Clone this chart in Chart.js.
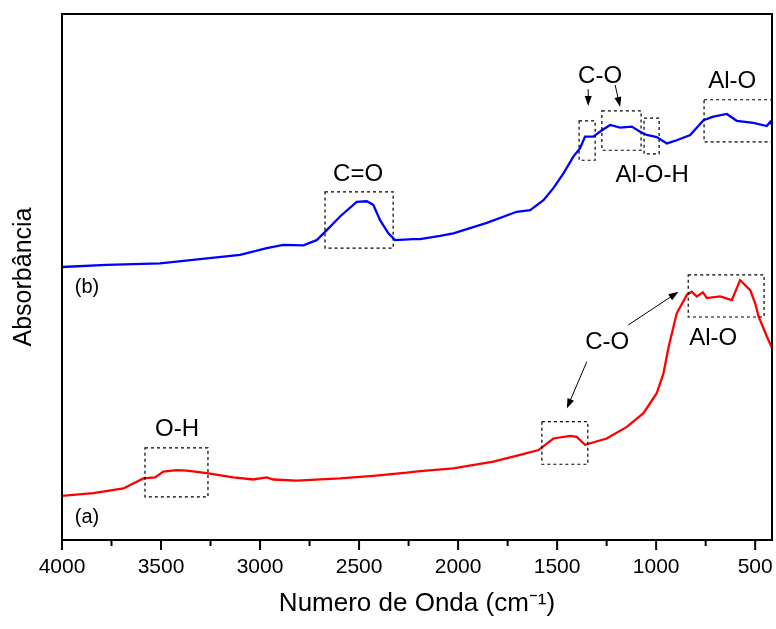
<!DOCTYPE html>
<html>
<head>
<meta charset="utf-8">
<script src="https://cdn.jsdelivr.net/npm/chart.js@4.4.1/dist/chart.umd.min.js"></script>
<style>
  body { margin: 0; background: #fff; }
  #box { width: 776px; height: 629px; }
</style>
</head>
<body>
<div id="box"><canvas id="myChart"></canvas></div>
<script>
// espectro (a) - vermelho
let waveA = [4000, 3842, 3690, 3589, 3530, 3488, 3421, 3370, 3269, 3135, 3034, 2966, 2933, 2815, 2596, 2428,
  2259, 2192, 2024, 1822, 1687, 1594, 1519, 1434, 1401, 1359, 1250, 1148, 1064, 997, 963, 937, 896,
  845, 820, 795, 764, 744, 677, 618, 576, 525, 500, 483, 441, 415];
let absA = [0.084, 0.089, 0.098, 0.117, 0.119, 0.130, 0.133, 0.132, 0.127, 0.119, 0.115, 0.119, 0.115, 0.113, 0.117, 0.122,
  0.128, 0.131, 0.136, 0.149, 0.162, 0.171, 0.193, 0.198, 0.196, 0.181, 0.193, 0.215, 0.241, 0.279, 0.317, 0.367, 0.431,
  0.466, 0.472, 0.463, 0.471, 0.460, 0.463, 0.456, 0.494, 0.475, 0.450, 0.425, 0.387, 0.365];

// espectro (b) - azul
let waveB = [4000, 3774, 3505, 3303, 3101, 2966, 2882, 2781, 2714, 2663, 2596, 2512, 2461, 2428, 2394, 2352,
  2318, 2226, 2192, 2091, 2024, 1855, 1704, 1636, 1569, 1519, 1468, 1418, 1384, 1359, 1317, 1274, 1232,
  1182, 1123, 1081, 1047, 997, 946, 896, 828, 761, 711, 643, 593, 509, 441, 424, 415];
let absB = [0.519, 0.523, 0.526, 0.534, 0.542, 0.555, 0.561, 0.560, 0.570, 0.589, 0.615, 0.643, 0.644, 0.637, 0.608, 0.583,
  0.570, 0.572, 0.572, 0.578, 0.583, 0.603, 0.624, 0.627, 0.646, 0.669, 0.697, 0.729, 0.745, 0.767, 0.767, 0.779, 0.789,
  0.784, 0.786, 0.776, 0.770, 0.766, 0.754, 0.760, 0.770, 0.798, 0.805, 0.810, 0.797, 0.793, 0.787, 0.795, 0.789];

let tickValues = [4000, 3500, 3000, 2500, 2000, 1500, 1000, 500];
let minorTicks = [3750, 3250, 2750, 2250, 1750, 1250, 750];

// caixas tracejadas [wn1, wn2, y1, y2]
let boxes = [
  [2672, 2328, 0.662, 0.555],
  [1389, 1308, 0.797, 0.722],
  [1274, 1076, 0.816, 0.741],
  [1061, 985, 0.802, 0.734],
  [758, 416, 0.837, 0.757],
  [3581, 3263, 0.175, 0.082],
  [1577, 1345, 0.225, 0.144],
  [838, 455, 0.504, 0.424]
];
// textos [texto, wn, y]
let notes = [
  ['C=O', 2505, 0.696],
  ['C-O', 1283, 0.882],
  ['Al-O', 616, 0.871],
  ['Al-O-H', 1020, 0.694],
  ['O-H', 3419, 0.211],
  ['C-O', 1247, 0.375],
  ['Al-O', 712, 0.384],
  ['(b)', 3874, 0.481],
  ['(a)', 3874, 0.042]
];
// setas [wn1, y1, wn2, y2]
let arrows = [
  [1343, 0.857, 1343, 0.825],
  [1207, 0.865, 1182, 0.823],
  [1350, 0.339, 1451, 0.250],
  [1140, 0.409, 887, 0.472]
];

let font = '"Liberation Sans", Arial, sans-serif';

function toPoints(xs, ys) {
  return xs.map(function (x, i) { return { x: x, y: ys[i] }; });
}

function arrow(ctx, x1, y1, x2, y2) {
  let ang = Math.atan2(y2 - y1, x2 - x1);
  ctx.beginPath();
  ctx.moveTo(x1, y1);
  ctx.lineTo(x2 - 6 * Math.cos(ang), y2 - 6 * Math.sin(ang));
  ctx.stroke();
  ctx.beginPath();
  ctx.moveTo(x2, y2);
  ctx.lineTo(x2 - 10 * Math.cos(ang) + 3.5 * Math.sin(ang), y2 - 10 * Math.sin(ang) - 3.5 * Math.cos(ang));
  ctx.lineTo(x2 - 10 * Math.cos(ang) - 3.5 * Math.sin(ang), y2 - 10 * Math.sin(ang) + 3.5 * Math.cos(ang));
  ctx.closePath();
  ctx.fill();
}

let extras = {
  id: 'extras',
  afterDatasetsDraw: function (chart) {
    let ctx = chart.ctx;
    let a = chart.chartArea;
    let sx = chart.scales.x;
    let sy = chart.scales.y;
    ctx.save();
    ctx.strokeStyle = '#000';
    ctx.fillStyle = '#000';

    // moldura
    ctx.lineWidth = 2;
    ctx.strokeRect(a.left, a.top, a.right - a.left, a.bottom - a.top);

    // marcas do eixo x
    tickValues.forEach(function (v) {
      let px = sx.getPixelForValue(v);
      ctx.beginPath(); ctx.moveTo(px, a.bottom); ctx.lineTo(px, a.bottom + 10); ctx.stroke();
    });
    minorTicks.forEach(function (v) {
      let px = sx.getPixelForValue(v);
      ctx.beginPath(); ctx.moveTo(px, a.bottom); ctx.lineTo(px, a.bottom + 6); ctx.stroke();
    });

    // caixas
    ctx.lineWidth = 1.2;
    ctx.setLineDash([3, 3]);
    boxes.forEach(function (b) {
      let x1 = sx.getPixelForValue(b[0]), x2 = sx.getPixelForValue(b[1]);
      let y1 = sy.getPixelForValue(b[2]), y2 = sy.getPixelForValue(b[3]);
      ctx.strokeRect(x1, y1, x2 - x1, y2 - y1);
    });
    ctx.setLineDash([]);

    // setas
    ctx.lineWidth = 1;
    arrows.forEach(function (r) {
      arrow(ctx, sx.getPixelForValue(r[0]), sy.getPixelForValue(r[1]), sx.getPixelForValue(r[2]), sy.getPixelForValue(r[3]));
    });

    // textos
    ctx.textAlign = 'center';
    ctx.textBaseline = 'middle';
    notes.forEach(function (n) {
      ctx.font = (n[0].charAt(0) === '(' ? '20px ' : '24px ') + font;
      ctx.fillText(n[0], sx.getPixelForValue(n[1]), sy.getPixelForValue(n[2]));
    });
    ctx.restore();
  }
};

let ctx = document.getElementById('myChart').getContext('2d');
let chart = new Chart(ctx, {
  type: 'line',
  data: {
    datasets: [{
      label: '(a)',
      data: toPoints(waveA, absA),
      borderColor: '#ff0000',
      borderWidth: 2.3,
      pointRadius: 0,
      tension: 0
    }, {
      label: '(b)',
      data: toPoints(waveB, absB),
      borderColor: '#0000ff',
      borderWidth: 2.3,
      pointRadius: 0,
      tension: 0
    }]
  },
  options: {
    responsive: true,
    maintainAspectRatio: false,
    animation: false,
    layout: { padding: { top: 14, right: 4, left: 0, bottom: 0 } },
    plugins: { legend: { display: false }, tooltip: { enabled: false } },
    scales: {
      x: {
        type: 'linear',
        reverse: true,
        min: 415,
        max: 4000,
        grid: { display: false, drawTicks: false },
        border: { display: false },
        afterBuildTicks: function (scale) {
          scale.ticks = tickValues.map(function (v) { return { value: v }; });
        },
        afterFit: function (scale) {
          scale.height = 89;
          scale.paddingLeft = 0;
          scale.paddingRight = 0;
        },
        ticks: {
          padding: 15,
          color: '#000',
          maxRotation: 0,
          autoSkip: false,
          font: { family: font, size: 21 },
          callback: function (v) { return String(v); }
        },
        title: {
          display: true,
          text: 'Numero de Onda (cm\u207B\u00B9)',
          color: '#000',
          font: { family: font, size: 26 },
          padding: { top: 0, bottom: 10 }
        }
      },
      y: {
        min: 0,
        max: 1,
        grid: { display: false, drawTicks: false },
        border: { display: false },
        ticks: { display: false },
        afterFit: function (scale) { scale.width = 62; },
        title: {
          display: true,
          text: 'Absorbância',
          color: '#000',
          font: { family: font, size: 25 },
          padding: { top: 9, bottom: 0 }
        }
      }
    }
  },
  plugins: [extras]
});
</script>
</body>
</html>
